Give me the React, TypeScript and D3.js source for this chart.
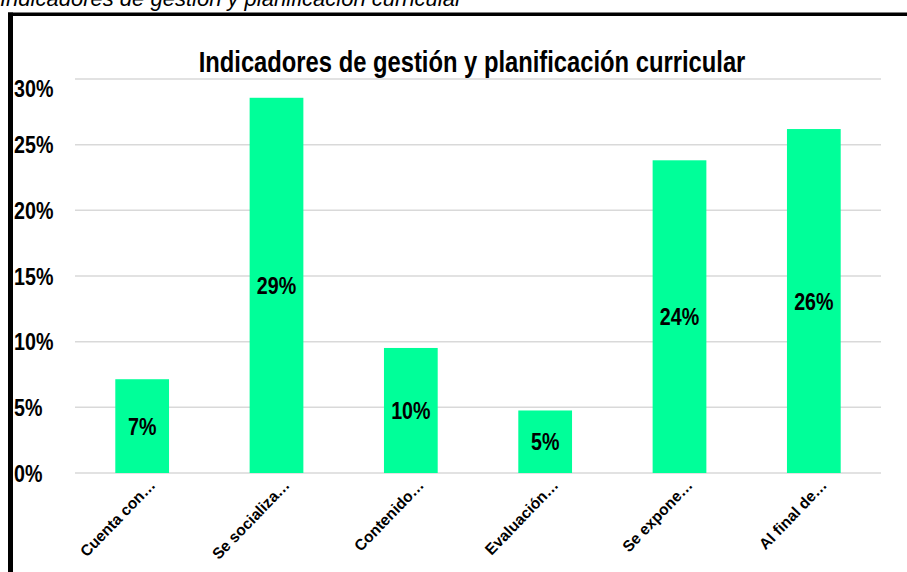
import React from 'react';
import * as d3 from 'd3';

// data
const categories = ['Cuenta con…', 'Se socializa…', 'Contenido…', 'Evaluación…', 'Se expone…', 'Al final de…'];
const values = [0.0714, 0.2857, 0.0952, 0.0476, 0.2381, 0.2619];
const yTicks = [0, 0.05, 0.1, 0.15, 0.2, 0.25, 0.3];

const caption = 'Indicadores de gestión y planificación curricular';
const title = 'Indicadores de gestión y planificación curricular';

const W = 907;
const H = 572;
const FONT = '"Liberation Sans", Arial, sans-serif';
const SQUEEZE = 0.82; // narrow look of the original fonts
const BAR = '#00FF99';

const App: React.FC = () => {
  const x = d3.scaleBand<string>()
    .domain(categories)
    .range([75, 881])
    .paddingInner(0.6)
    .paddingOuter(0.3);

  const y = d3.scaleLinear().domain([0, 0.3]).range([473, 79]);
  const fmt = d3.format('.0%');

  return (
    <svg width={W} height={H} style={{ position: 'absolute', left: 0, top: 0, background: '#fff' }}>
      {/* caption above the frame, cut by the top edge */}
      <text x={0} y={5.5} fontFamily={FONT} fontStyle="italic" fontSize={22} fill="#000">{caption}</text>

      {/* frame */}
      <rect x={8} y={12.5} width={5} height={H} fill="#000" />
      <rect x={8} y={12.5} width={W} height={3.5} fill="#000" />

      {/* gridlines */}
      {yTicks.map(t => (
        <line key={t} x1={75} x2={881} y1={y(t)} y2={y(t)} stroke="#d9d9d9" strokeWidth={1.5} />
      ))}

      {/* y tick labels */}
      {yTicks.map(t => (
        <g key={'l' + t} transform={`translate(14,${y(t) + (t === 0.3 ? 9 : 0)}) scale(${SQUEEZE},1)`}>
          <text dy="0.36em" fontFamily={FONT} fontWeight="bold" fontSize={24} fill="#000">{fmt(t)}</text>
        </g>
      ))}

      {/* bars */}
      {categories.map((c, i) => (
        <rect key={c} x={x(c)} y={y(values[i])} width={x.bandwidth()} height={y(0) - y(values[i])} fill={BAR} />
      ))}

      {/* value labels */}
      {categories.map((c, i) => (
        <g key={'v' + c} transform={`translate(${(x(c) ?? 0) + x.bandwidth() / 2},${(y(values[i]) + y(0)) / 2}) scale(${SQUEEZE},1)`}>
          <text textAnchor="middle" dy="0.36em" fontFamily={FONT} fontWeight="bold" fontSize={24} fill="#000">{fmt(values[i])}</text>
        </g>
      ))}

      {/* category labels */}
      {categories.map(c => (
        <text
          key={'c' + c}
          transform={`translate(${(x(c) ?? 0) + x.bandwidth() / 2 + 14},${486}) rotate(-46)`}
          textAnchor="end"
          fontFamily={FONT}
          fontWeight="bold"
          fontSize={15.5}
          fill="#000"
        >{c}</text>
      ))}

      {/* chart title */}
      <g transform={`translate(472,72) scale(${SQUEEZE},1)`}>
        <text textAnchor="middle" fontFamily={FONT} fontWeight="bold" fontSize={29} fill="#000">{title}</text>
      </g>
    </svg>
  );
};

export default App;
